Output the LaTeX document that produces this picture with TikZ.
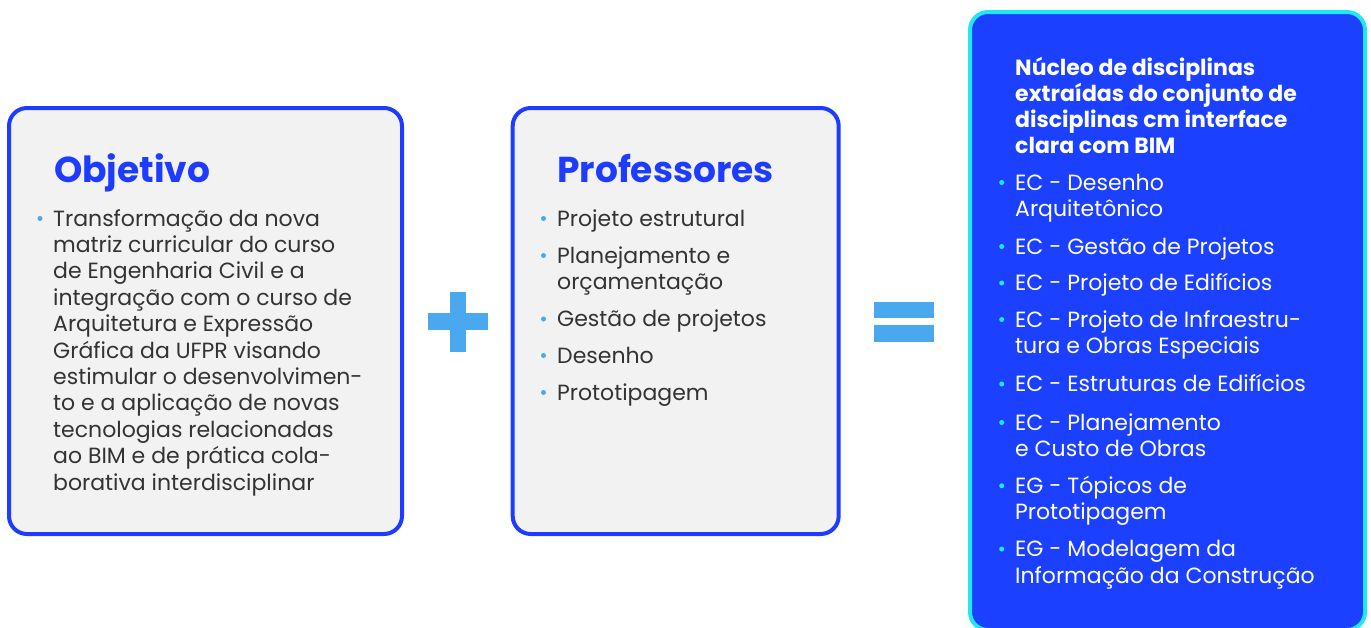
\documentclass[tikz,border=0pt]{standalone}
\usepackage{fontspec}
\setmainfont{Poppins}
\definecolor{boxblue}{RGB}{30,60,255}
\definecolor{boxgrey}{RGB}{242,242,242}
\definecolor{txtgrey}{RGB}{51,51,51}
\definecolor{dotblue}{RGB}{74,168,238}
\definecolor{deepblue}{RGB}{27,64,255}
\definecolor{cyanedge}{RGB}{32,232,240}
\newcommand\bodyf{\fontsize{22}{26.4}\selectfont}
\newcommand\titlef{\fontsize{36}{40}\selectfont\bfseries}
\newcommand\headf{\fontsize{22}{26}\selectfont\bfseries}
\tikzset{
  box/.style={draw=boxblue, line width=4pt, fill=boxgrey, rounded corners=18pt, inner sep=0pt},
  bluebox/.style={draw=cyanedge, line width=4pt, fill=deepblue, rounded corners=18pt, inner sep=0pt},
  ttl/.style={anchor=base west, text=boxblue, font=\titlef, inner sep=0pt},
  item/.style={anchor=base west, align=left, text=txtgrey, font=\bodyf, inner sep=0pt},
  witem/.style={anchor=base west, align=left, text=white, font=\bodyf, inner sep=0pt},
  whead/.style={anchor=base west, align=left, text=white, font=\headf, inner sep=0pt},
  dot/.style={circle, fill=dotblue, inner sep=0pt, minimum size=5pt},
  cdot/.style={circle, fill=cyanedge, inner sep=0pt, minimum size=5pt},
  bar/.style={fill=dotblue, inner sep=0pt, draw=none},
}
\begin{document}
\begin{tikzpicture}[x=1pt,y=-1pt]
\useasboundingbox (0,0) rectangle (1371,627);
\clip (0,0) rectangle (1371,627);
% boxes
\node[box, minimum width=393, minimum height=426] (objbox) at (205.5,321) {};
\node[box, minimum width=326, minimum height=426] (profbox) at (675.7,321) {};
\node[bluebox, minimum width=395, minimum height=618] (nucbox) at (1167.5,321) {};
% plus and equals
\node[bar, minimum width=16, minimum height=60] (plusv) at (458,322) {};
\node[bar, minimum width=60, minimum height=17] (plush) at (458,321.5) {};
\node[bar, minimum width=60, minimum height=16] (eqtop) at (904,310) {};
\node[bar, minimum width=60, minimum height=17] (eqbot) at (904,333.5) {};
% Objetivo (base anchor = baseline of last line)
\node[ttl] (objttl) at (54,182) {Objetivo};
\node[dot] (objd1) at (40,218.5) {};
\node[item] (obj1) at (53,490) {Transformação da nova\\
matriz curricular do curso\\
de Engenharia Civil e a\\
integração com o curso de\\
Arquitetura e Expressão\\
Gráfica da UFPR visando\\
estimular o desenvolvimen-\\
to e a aplicação de novas\\
tecnologias relacionadas\\
ao BIM e de prática cola-\\
borativa interdisciplinar};
% Professores
\node[ttl] (profttl) at (557,182) {Professores};
\node[dot] (pd1) at (543.5,218.5) {};
\node[item] (p1) at (557,226) {Projeto estrutural};
\node[dot] (pd2) at (543.5,255.5) {};
\node[item] (p2) at (557,289.4) {Planejamento e\\orçamentação};
\node[dot] (pd3) at (543.5,319) {};
\node[item] (p3) at (557,326.5) {Gestão de projetos};
\node[dot] (pd4) at (543.5,355.5) {};
\node[item] (p4) at (557,363) {Desenho};
\node[dot] (pd5) at (543.5,392.5) {};
\node[item] (p5) at (557,400) {Prototipagem};
% Nucleo
\node[whead] (nucttl) at (1015,153) {Núcleo de disciplinas\\
extraídas do conjunto de\\
disciplinas cm interface\\
clara com BIM};
\node[cdot] (nd1) at (1001.7,182.5) {};
\node[witem] (n1) at (1015,216.4) {EC - Desenho\\Arquitetônico};
\node[cdot] (nd2) at (1001.7,246.5) {};
\node[witem] (n2) at (1015,254) {EC - Gestão de Projetos};
\node[cdot] (nd3) at (1001.7,283) {};
\node[witem] (n3) at (1015,290.7) {EC - Projeto de Edifícios};
\node[cdot] (nd4) at (1001.7,319.5) {};
\node[witem] (n4) at (1015,353.8) {EC - Projeto de Infraestru-\\tura e Obras Especiais};
\node[cdot] (nd5) at (1001.7,384) {};
\node[witem] (n5) at (1015,391.7) {EC - Estruturas de Edifícios};
\node[cdot] (nd6) at (1001.7,422.5) {};
\node[witem] (n6) at (1015,456.4) {EC - Planejamento\\e Custo de Obras};
\node[cdot] (nd7) at (1001.7,485.8) {};
\node[witem] (n7) at (1015,519.7) {EG - Tópicos de\\Prototipagem};
\node[cdot] (nd8) at (1001.7,549) {};
\node[witem] (n8) at (1015,583.1) {EG - Modelagem da\\Informação da Construção};
\end{tikzpicture}
\end{document}
